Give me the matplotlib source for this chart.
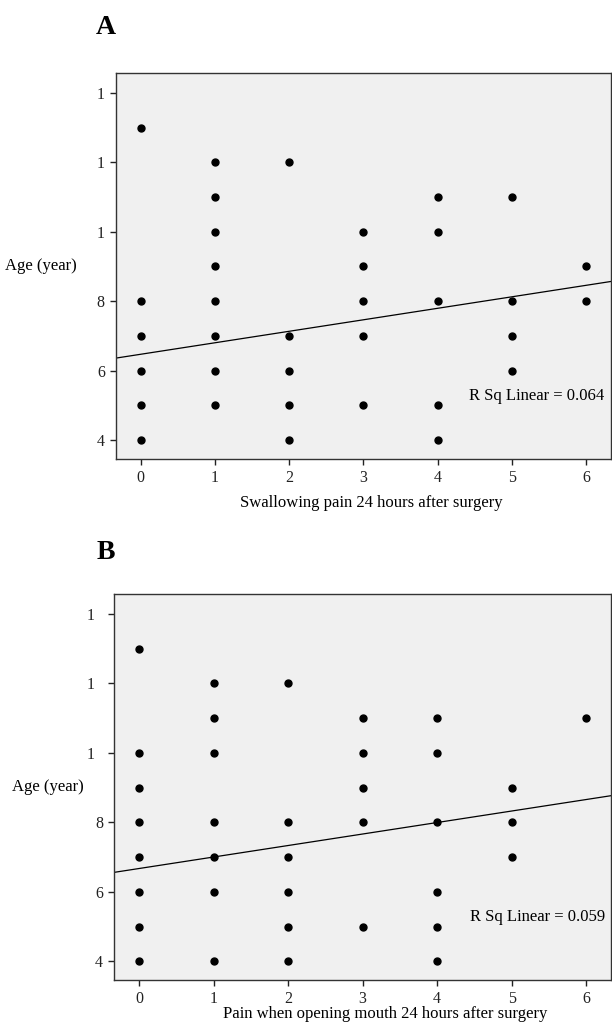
import matplotlib.pyplot as plt
import numpy as np

plt.rcParams['font.family'] = ['Liberation Serif', 'DejaVu Serif']

# panel A: swallowing pain vs age
a_pain = [0, 0, 0, 0, 0, 0,
          1, 1, 1, 1, 1, 1, 1, 1,
          2, 2, 2, 2, 2,
          3, 3, 3, 3, 3,
          4, 4, 4, 4, 4,
          5, 5, 5, 5,
          6, 6]
a_age = [13, 8, 7, 6, 5, 4,
         12, 11, 10, 9, 8, 7, 6, 5,
         12, 7, 6, 5, 4,
         10, 9, 8, 7, 5,
         11, 10, 8, 5, 4,
         11, 8, 7, 6,
         9, 8]
a_fit = (0.331, 6.47)  # slope, intercept
a_r2 = 0.064

# panel B: pain when opening mouth vs age
b_pain = [0, 0, 0, 0, 0, 0, 0, 0,
          1, 1, 1, 1, 1, 1, 1,
          2, 2, 2, 2, 2, 2,
          3, 3, 3, 3, 3,
          4, 4, 4, 4, 4, 4,
          5, 5, 5,
          6]
b_age = [13, 10, 9, 8, 7, 6, 5, 4,
         12, 11, 10, 8, 7, 6, 4,
         12, 8, 7, 6, 5, 4,
         11, 10, 9, 8, 5,
         11, 10, 8, 6, 5, 4,
         9, 8, 7,
         11]
b_fit = (0.331, 6.67)
b_r2 = 0.059

yticks = [4, 6, 8, 10, 12, 14]
a_ylabels = ['4', '6', '8', '1', '1', '1']
b_ylabels = ['4', '6', '8', '1  ', '1  ', '1  ']
xticks = [0, 1, 2, 3, 4, 5, 6]

fig = plt.figure(figsize=(6.12, 10.26), dpi=100)

panels = [
    # rect, x, y, fit, r2, ytick labels, xlabel, xlabel pos, ylabel x, letter, letter y
    ([0.1895, 0.5529, 0.8083, 0.3762], a_pain, a_age, a_fit, a_r2, a_ylabels,
     'Swallowing pain 24 hours after surgery', (0.517, -0.115), -0.079, 'A', 0.985),
    ([0.1863, 0.0448, 0.8116, 0.3765], b_pain, b_age, b_fit, b_r2, b_ylabels,
     'Pain when opening mouth 24 hours after surgery', (0.545, -0.089), -0.06, 'B', 0.474),
]

for rect, px, py, fit, r2, ylabs, xlab, xlpos, ylx, letter, ly in panels:
    ax = fig.add_axes(rect)
    ax.set_facecolor('#f0f0f0')
    ax.scatter(px, py, s=25, color='black', zorder=3)
    xs = np.array([-0.4, 6.4])
    ax.plot(xs, fit[0] * xs + fit[1], color='black', lw=0.9, zorder=2)
    ax.set_xlim(-0.335, 6.33)
    ax.set_ylim(3.46, 14.58)
    ax.set_xticks(xticks)
    ax.set_yticks(yticks)
    ax.set_yticklabels(ylabs)
    ax.tick_params(direction='out', length=4.5, width=1, labelsize=11.5, colors='#222222')
    for s in ax.spines.values():
        s.set_color('#333333')
        s.set_linewidth(1)
    ax.set_xlabel(xlab, fontsize=12, va='center')
    ax.xaxis.set_label_coords(*xlpos)
    ax.set_ylabel('Age (year)', fontsize=12, rotation=0, ha='right', va='center')
    ax.yaxis.set_label_coords(ylx, 0.5)
    ax.text(6.25, 5.27, 'R Sq Linear = %.3f' % r2, ha='right', va='center', fontsize=12)
    fig.text(0.157, ly, letter, fontsize=20, fontweight='bold', va='top')

fig.savefig('out.png', dpi=100)
